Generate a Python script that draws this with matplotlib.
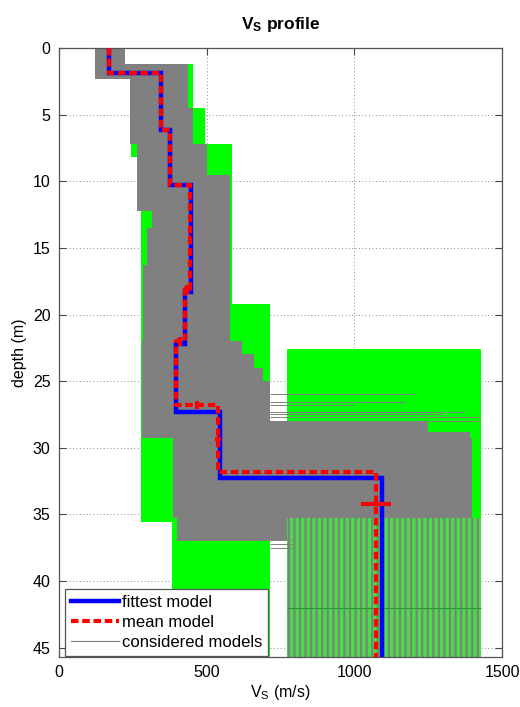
import numpy as np
import matplotlib.pyplot as plt
from matplotlib.lines import Line2D

plt.rcParams['font.family'] = ['Liberation Sans', 'DejaVu Sans']
plt.rcParams['mathtext.fontset'] = 'custom'
plt.rcParams['mathtext.rm'] = 'Liberation Sans'
plt.rcParams['mathtext.it'] = 'Liberation Sans:italic'
plt.rcParams['mathtext.bf'] = 'Liberation Sans:bold'
plt.rcParams['hatch.linewidth'] = 2.4

# fittest model (blue): layer velocities and interface depths
fit_vs = [170, 345, 376, 446, 427, 397, 545, 1095]
fit_z = [1.85, 6.15, 10.3, 18.3, 22.2, 27.3, 32.3]

# mean model (red dashed) with its error bars
mean_vs = [170, 345, 376, 442, 425, 396, 539, 1072]
mean_z = [1.85, 6.15, 10.3, 18.1, 22.0, 26.8, 31.85]
mean_vs_err = [3, 4, 5, 6, 6, 6, 10, 51]
mean_z_err = [0.1, 0.1, 0.1, 0.35, 0.35, 0.3, 0.0]
halfspace_bottom = 36.6

# search area (green): upper layers block and half-space block
green_a_z = [0, 1.2, 2.3, 4.5, 7.2, 8.2, 12.0, 19.2, 35.6, 45.7]
green_a_lo = [122, 122, 240, 240, 245, 264, 276, 276, 381]
green_a_hi = [224, 455, 455, 494, 585, 585, 585, 714, 714]
green_b_z = [22.6, 45.7]
green_b_lo = [772]
green_b_hi = [1429]

# considered models envelope (gray)
gray_z = [0, 1.2, 2.3, 4.5, 7.2, 9.5, 12.2, 13.5, 16.3, 22.0, 23.0, 24.0,
          25.0, 28.0, 28.8, 29.3, 35.3, 37.0]
gray_lo = [122, 122, 240, 240, 264, 264, 315, 298, 285, 282, 282, 282,
           282, 282, 282, 386, 400]
gray_hi = [224, 437, 437, 455, 500, 580, 580, 580, 580, 620, 660, 690,
           714, 1250, 1390, 1400, 772]
# half-space of considered models: gray and green stripes
stripe_z = [35.3, 45.7]
stripe_lo = [772]
stripe_hi = [1429]

# single models crossing the white gap
gap_z = [25.96, 26.6, 26.8, 27.3, 27.5, 27.7, 27.97, 36.86, 37.2, 37.5]
gap_end = [1203, 1172, 1000, 1375, 1300, 1426, 1420, 790, 790, 790]
green_line_z = 42.0

xticks = [0, 500, 1000, 1500]
yticks = [0, 5, 10, 15, 20, 25, 30, 35, 40, 45]

GREEN = '#00ff00'
GRAY = '#808080'


def step_fill(ax, z, lo, hi, **kw):
    lo2 = list(lo) + [lo[-1]]
    hi2 = list(hi) + [hi[-1]]
    return ax.fill_betweenx(z, lo2, hi2, step='post', **kw)


def profile(vs, z, zmax):
    xs, ys = [], []
    top = 0
    for i, v in enumerate(vs):
        bot = z[i] if i < len(z) else zmax
        xs += [v, v]
        ys += [top, bot]
        top = bot
    return xs, ys


fig = plt.figure(figsize=(5.2, 7.07), dpi=100)
ax = fig.add_axes([59 / 520, 1 - 657 / 707, 443 / 520, 609 / 707])

step_fill(ax, green_a_z, green_a_lo, green_a_hi, color=GREEN, lw=0, zorder=1)
step_fill(ax, green_b_z, green_b_lo, green_b_hi, color=GREEN, lw=0, zorder=1)
step_fill(ax, gray_z, gray_lo, gray_hi, color=GRAY, lw=0, zorder=2)
step_fill(ax, stripe_z, stripe_lo, stripe_hi, facecolor=GRAY, edgecolor='#44e044',
          hatch='|||', lw=0, zorder=2)
ax.hlines(gap_z, 714, gap_end, color=GRAY, lw=0.7, zorder=2.5)
ax.hlines(green_line_z, 772, 1429, color='#2a9a2a', lw=0.8, zorder=2.6)

fx, fy = profile(fit_vs, fit_z, 45.7)
ax.plot(fx, fy, color='#0000ff', lw=3.2, zorder=3, solid_joinstyle='miter')
mx, my = profile(mean_vs, mean_z, 45.7)
ax.plot(mx, my, color='#ff0000', lw=3.0, ls=(0, (1.8, 0.9)), zorder=4)

# error bars: velocity at layer mid-depth, depth at step mid-velocity
tops = [0] + mean_z
bots = mean_z + [halfspace_bottom]
mid_z = [(a + b) / 2 for a, b in zip(tops, bots)]
ax.errorbar(mean_vs, mid_z, xerr=mean_vs_err, fmt='none', ecolor='#ff0000',
            elinewidth=3, capsize=0, zorder=5)
mid_v = [(mean_vs[i] + mean_vs[i + 1]) / 2 for i in range(len(mean_z))]
keep = [i for i in range(len(mean_z)) if mean_z_err[i] > 0]
ax.errorbar([mid_v[i] for i in keep], [mean_z[i] for i in keep],
            yerr=[mean_z_err[i] for i in keep], fmt='none', ecolor='#ff0000',
            elinewidth=3, capsize=0, zorder=5)

ax.set_xlim(0, 1500)
ax.set_ylim(45.7, 0)
ax.set_xticks(xticks)
ax.set_yticks(yticks)
ax.set_axisbelow(True)
ax.grid(True, color='#8a8a8a', ls=(0, (1, 2.5)), lw=0.7)
ax.tick_params(direction='in', length=5, width=0.8, top=True, right=True,
               labelsize=11.5, color='#444444', pad=6)
for s in ax.spines.values():
    s.set_color('#555555')
    s.set_linewidth(0.9)

ax.set_title(r'$\mathbf{V_S}$ profile', fontsize=12.5, fontweight='bold', pad=14)
ax.set_xlabel(r'V$_{\rm S}$ (m/s)', fontsize=11.5, labelpad=2)
ax.set_ylabel('depth (m)', fontsize=11.5, labelpad=4)

handles = [Line2D([], [], color='#0000ff', lw=3.2),
           Line2D([], [], color='#ff0000', lw=3.0, ls=(0, (1.8, 0.9))),
           Line2D([], [], color=GRAY, lw=0.8)]
leg = ax.legend(handles, ['fittest model', 'mean model', 'considered models'],
                loc='lower left', bbox_to_anchor=(0.013, 0.002), borderaxespad=0,
                fontsize=12, fancybox=False, edgecolor='#555555', framealpha=1,
                handlelength=2.9, handletextpad=0.2, labelspacing=0.3,
                borderpad=0.35)
leg.get_frame().set_linewidth(0.9)
leg.set_zorder(10)

fig.savefig('out.png', dpi=100)
